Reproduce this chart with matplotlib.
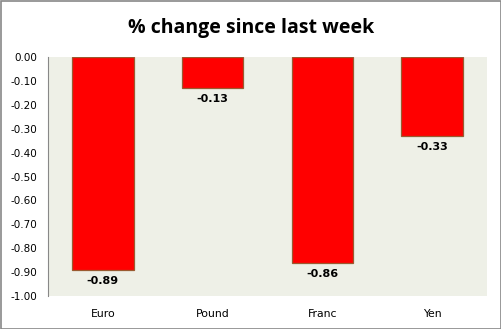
import matplotlib
matplotlib.use("Agg")
import matplotlib.pyplot as plt
from matplotlib.patches import Rectangle

categories = ["Euro", "Pound", "Franc", "Yen"]
values = [-0.89, -0.13, -0.86, -0.33]
yticks = [0.0, -0.1, -0.2, -0.3, -0.4, -0.5, -0.6, -0.7, -0.8, -0.9, -1.0]

fig = plt.figure(figsize=(5.02, 3.29), dpi=100)
fig.patch.set_facecolor("white")
fig.patches.append(Rectangle((0.001, 0.001), 0.997, 0.996, transform=fig.transFigure,
                             fill=False, edgecolor="#888888", linewidth=1.2))

ax = fig.add_axes([0.0956, 0.1003, 0.8745, 0.7264])
ax.set_facecolor("#EEF0E7")

x = range(len(categories))
ax.bar(x, values, width=0.56, color="#FF0000", edgecolor="#9A5A30", linewidth=0.9)

for xi, v in zip(x, values):
    ax.text(xi, v - 0.025, f"{v:.2f}", ha="center", va="top",
            fontsize=8, fontweight="bold", family="DejaVu Sans")

ax.set_xlim(-0.5, len(categories) - 0.5)
ax.set_ylim(-1.0, 0.0)
ax.set_yticks(yticks)
ax.set_yticklabels([f"{t:.2f}" for t in yticks], fontsize=7.5)
ax.set_xticks(list(x))
ax.set_xticklabels(categories, fontsize=7.8)
ax.tick_params(axis="both", length=0, pad=8)
ax.tick_params(axis="x", pad=9)

for side in ["top", "right", "bottom"]:
    ax.spines[side].set_visible(False)
ax.spines["left"].set_color("#888888")
ax.spines["left"].set_linewidth(0.8)

fig.text(0.5, 0.915, "% change since last week", ha="center", va="center",
         fontsize=14, fontweight="bold", family="Open Sans")

fig.savefig("out.png", dpi=100)
